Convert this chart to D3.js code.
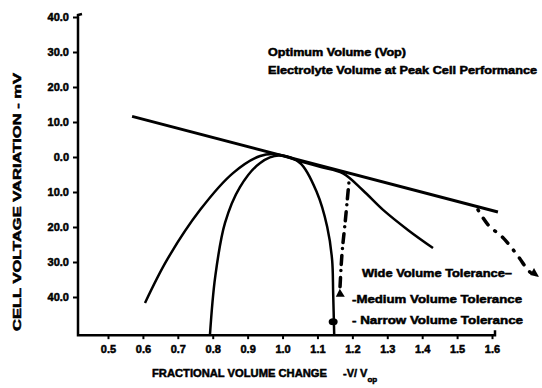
<!DOCTYPE html>
<html>
<head>
<meta charset="utf-8">
<script src="https://cdn.jsdelivr.net/npm/d3@7"></script>
<style>
  body { margin: 0; background: #fff; }
  svg text { font-family: "Liberation Sans", Arial, sans-serif; font-weight: bold; fill: #000;
             stroke: #000; stroke-width: 0.5px; }
</style>
</head>
<body>
<div id="chart"></div>
<script>
// values
var xTicks = [0.5, 0.6, 0.7, 0.8, 0.9, 1.0, 1.1, 1.2, 1.3, 1.4, 1.5, 1.6];
var yTicks = [40, 30, 20, 10, 0, -10, -20, -30, -40];

var tangentX = [0.569, 1.617];
var tangentY = [11.6, -15.7];

var wideX = [0.606, 0.669, 0.764, 0.858, 0.936, 0.982, 1.05, 1.11, 1.173, 1.23, 1.288, 1.36, 1.431];
var wideY = [-41.7, -29.4, -15.1, -4.6, 0.3, 0.8, -1.2, -2.9, -4.7, -9.5, -15.1, -20.9, -26.0];

var narrowX = [0.792, 0.807, 0.835, 0.878, 0.936, 0.99, 1.05, 1.099, 1.128, 1.142, 1.145, 1.148];
var narrowY = [-50.9, -34.3, -18.9, -8.6, -1.7, 0.4, -1.7, -10.3, -20.0, -29.4, -38.9, -50.9];

var mediumMarkX = [1.19, 1.18, 1.17, 1.164];
var mediumMarkY = [-7.4, -18.0, -28.0, -38.5];

var wideMarkX = [1.56, 1.589, 1.632, 1.672, 1.709, 1.729];
var wideMarkY = [-15.1, -19.4, -23.1, -28.0, -32.9, -34.0];

var narrowMarkX = 1.145, narrowMarkY = -47.1;

var width = 542, height = 388;
var axisX = 78, axisBottom = -50.9;

var svg = d3.select('#chart').append('svg')
    .attr('width', width)
    .attr('height', height);

var x = d3.scaleLinear().domain([0.5, 1.6]).range([108, 492]);
var y = d3.scaleLinear().domain([-40, 40]).range([297, 17]);

var zip = function(xs, ys){ return xs.map(function(v, i){ return [v, ys[i]]; }); };

// axes
var yAxis = svg.append('g')
    .attr('transform', 'translate(' + axisX + ',0)')
    .call(d3.axisLeft(y).tickValues(yTicks).tickSize(5).tickPadding(4)
        .tickFormat(function(d){ return Math.abs(d).toFixed(1); }));
yAxis.select('.domain').remove();
yAxis.selectAll('line').attr('stroke', '#000').attr('stroke-width', 2);
yAxis.selectAll('text').attr('font-size', 11).attr('font-family', null);

var xAxis = svg.append('g')
    .attr('transform', 'translate(0,' + y(axisBottom) + ')')
    .call(d3.axisBottom(x).tickValues(xTicks).tickSize(4).tickPadding(6)
        .tickFormat(d3.format('.1f')));
xAxis.select('.domain').remove();
xAxis.selectAll('line').attr('stroke', '#000').attr('stroke-width', 2);
xAxis.selectAll('text').attr('font-size', 11).attr('font-family', null);

svg.append('path')
    .attr('d', 'M' + (axisX + 4) + ',' + (y(40) - 3) + 'L' + axisX + ',' + (y(40) - 2)
        + 'L' + axisX + ',' + y(axisBottom) + 'L' + (x(1.6) + 3) + ',' + y(axisBottom)
        + 'L' + (x(1.6) + 3) + ',' + (y(axisBottom) - 5))
    .attr('fill', 'none').attr('stroke', '#000').attr('stroke-width', 2.5);

// curves
var line = d3.line().x(function(d){ return x(d[0]); }).y(function(d){ return y(d[1]); })
    .curve(d3.curveCatmullRom.alpha(0.5));

svg.append('path').datum(zip(tangentX, tangentY))
    .attr('d', line).attr('fill', 'none').attr('stroke', '#000').attr('stroke-width', 3);

svg.append('path').datum(zip(wideX, wideY))
    .attr('d', line).attr('fill', 'none').attr('stroke', '#000').attr('stroke-width', 2.5);

svg.append('path').datum(zip(narrowX, narrowY))
    .attr('d', line).attr('fill', 'none').attr('stroke', '#000').attr('stroke-width', 2.5);

svg.append('path').datum(zip(mediumMarkX, mediumMarkY))
    .attr('d', line).attr('fill', 'none').attr('stroke', '#000').attr('stroke-width', 3.5)
    .attr('stroke-linecap', 'round').attr('stroke-dasharray', '0,7,9,6');

svg.append('path').datum(zip(wideMarkX, wideMarkY))
    .attr('d', line).attr('fill', 'none').attr('stroke', '#000').attr('stroke-width', 3.5)
    .attr('stroke-linecap', 'round').attr('stroke-dasharray', '1,9,8,9');

// arrow heads at the ends of the markers
var mEnd = [x(mediumMarkX[mediumMarkX.length - 1]), y(mediumMarkY[mediumMarkY.length - 1])];
svg.append('path')
    .attr('d', 'M' + (mEnd[0] - 4) + ',' + (mEnd[1] + 5) + 'L' + mEnd[0] + ',' + (mEnd[1] - 3)
        + 'L' + (mEnd[0] + 5) + ',' + (mEnd[1] + 5) + 'Z')
    .attr('fill', '#000');

var wEnd = [x(wideMarkX[wideMarkX.length - 1]), y(wideMarkY[wideMarkY.length - 1])];
svg.append('path')
    .attr('d', 'M' + (wEnd[0] - 7) + ',' + (wEnd[1] - 1) + 'L' + (wEnd[0] + 2) + ',' + (wEnd[1] + 1)
        + 'L' + (wEnd[0] - 3) + ',' + (wEnd[1] - 8) + 'Z')
    .attr('fill', '#000');

svg.append('ellipse')
    .attr('cx', x(narrowMarkX)).attr('cy', y(narrowMarkY))
    .attr('rx', 4.5).attr('ry', 3.5).attr('fill', '#000');

// annotations
var note = svg.append('g').attr('font-size', 10.5);
note.append('text').attr('x', 268).attr('y', 56)
    .attr('textLength', 138).attr('lengthAdjust', 'spacingAndGlyphs')
    .text('Optimum Volume (Vop)');
note.append('text').attr('x', 268).attr('y', 74)
    .attr('textLength', 269).attr('lengthAdjust', 'spacingAndGlyphs')
    .text('Electrolyte Volume at Peak Cell Performance');

var tol = svg.append('g').attr('font-size', 11);
tol.append('text').attr('x', 362).attr('y', 277)
    .attr('textLength', 150).attr('lengthAdjust', 'spacingAndGlyphs')
    .text('Wide Volume Tolerance\u2013');
tol.append('text').attr('x', 352).attr('y', 303)
    .attr('textLength', 170).attr('lengthAdjust', 'spacingAndGlyphs')
    .text('-Medium Volume Tolerance');
tol.append('text').attr('x', 352).attr('y', 324)
    .attr('textLength', 171).attr('lengthAdjust', 'spacingAndGlyphs')
    .text('- Narrow Volume Tolerance');

// axis titles
var xt = svg.append('text').attr('x', 152).attr('y', 377).attr('font-size', 11);
xt.append('tspan').attr('textLength', 175).attr('lengthAdjust', 'spacingAndGlyphs')
    .text('FRACTIONAL VOLUME CHANGE');
xt.append('tspan').attr('dx', 16).text('-V/ V');
xt.append('tspan').attr('dy', 5).attr('font-size', 8).text('op');

svg.append('text')
    .attr('transform', 'translate(21,' + 202 + ') rotate(-90)')
    .attr('text-anchor', 'middle')
    .attr('font-size', 11)
    .attr('textLength', 258).attr('lengthAdjust', 'spacingAndGlyphs')
    .text('CELL VOLTAGE VARIATION - mV');
</script>
</body>
</html>
